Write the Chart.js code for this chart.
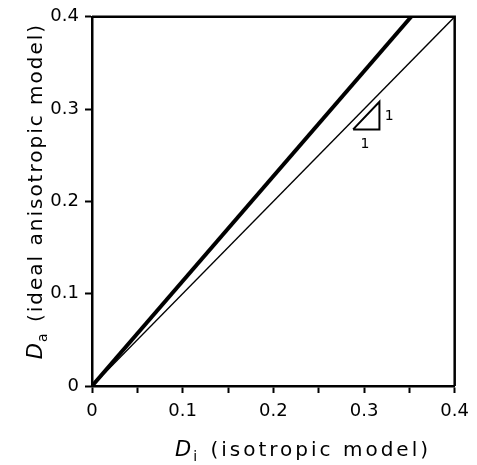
<!DOCTYPE html>
<html>
<head>
<meta charset="utf-8">
<script src="https://cdn.jsdelivr.net/npm/chart.js@4.4.0/dist/chart.umd.min.js"></script>
<style>
  html, body { margin: 0; padding: 0; background: #fff; }
  #wrap { width: 477px; height: 465px; }
</style>
</head>
<body>
<div id="wrap"><canvas id="myChart" width="477" height="465"></canvas></div>
<script>
// data
var isoX = [0, 0.4];
var isoY = [0, 0.4];
var anisoX = [0, 0.352];
var anisoY = [0, 0.4];
// 1:1 slope marker
var triX = [0.288, 0.317, 0.317, 0.288];
var triY = [0.278, 0.278, 0.308, 0.278];
var triLabels = [
    { text: '1', x: 0.323, y: 0.292, align: 'left' },
    { text: '1', x: 0.301, y: 0.262, align: 'center' }
];
var tickLabelsX = ['0', '0.1', '0.2', '0.3', '0.4'];
var tickLabelsY = ['0', '0.1', '0.2', '0.3', '0.4'];

function pts(xs, ys) {
    return xs.map(function (x, i) { return { x: x, y: ys[i] }; });
}

// frame, slope labels and axis titles (italic D with subscript)
var extras = {
    id: 'extras',
    afterDraw: function (chart) {
        var ctx = chart.ctx, a = chart.chartArea;
        var sx = chart.scales.x, sy = chart.scales.y;
        ctx.save();
        ctx.strokeStyle = '#000';
        ctx.lineWidth = 2.5;
        ctx.beginPath();
        ctx.moveTo(a.left, a.top);
        ctx.lineTo(a.right, a.top);
        ctx.lineTo(a.right, a.bottom);
        ctx.stroke();

        ctx.fillStyle = '#000';
        ctx.font = '14px "DejaVu Sans"';
        triLabels.forEach(function (l) {
            ctx.textAlign = l.align;
            ctx.textBaseline = 'middle';
            ctx.fillText(l.text, sx.getPixelForValue(l.x), sy.getPixelForValue(l.y));
        });

        function title(sub, rest, spacing) {
            ctx.letterSpacing = spacing + 'px';
            ctx.font = 'italic 21px "DejaVu Sans"';
            var w1 = ctx.measureText('D').width;
            ctx.font = '14px "DejaVu Sans"';
            var w2 = ctx.measureText(sub).width;
            ctx.font = '20px "DejaVu Sans"';
            var w3 = ctx.measureText(rest).width;
            var x = -(w1 + w2 + w3) / 2;
            ctx.textAlign = 'left';
            ctx.textBaseline = 'alphabetic';
            ctx.font = 'italic 21px "DejaVu Sans"';
            ctx.fillText('D', x, 0);
            ctx.font = '14px "DejaVu Sans"';
            ctx.fillText(sub, x + w1 - 1, 5);
            ctx.font = '20px "DejaVu Sans"';
            ctx.fillText(rest, x + w1 + w2, 0);
        }

        ctx.save();
        ctx.translate(303, 456);
        title('i', ' (isotropic model)', 3);
        ctx.restore();

        ctx.save();
        ctx.translate(42, 191);
        ctx.rotate(-Math.PI / 2);
        title('a', ' (ideal anisotropic model)', 2);
        ctx.restore();

        ctx.restore();
    }
};

var tickFont = { family: 'DejaVu Sans', size: 18 };

var ctx = document.getElementById('myChart').getContext('2d');
var myChart = new Chart(ctx, {
    type: 'scatter',
    data: {
        datasets: [{
            data: pts(isoX, isoY),
            showLine: true,
            borderColor: '#000',
            borderWidth: 1.3,
            pointRadius: 0
        }, {
            data: pts(anisoX, anisoY),
            showLine: true,
            borderColor: '#000',
            borderWidth: 4,
            pointRadius: 0
        }, {
            data: pts(triX, triY),
            showLine: true,
            borderColor: '#000',
            borderWidth: 2,
            pointRadius: 0
        }]
    },
    options: {
        responsive: false,
        animation: false,
        layout: { padding: { left: 0, right: 18, top: 15, bottom: 0 } },
        plugins: {
            legend: { display: false },
            tooltip: { enabled: false }
        },
        scales: {
            x: {
                type: 'linear',
                min: 0,
                max: 0.4,
                afterFit: function (scale) { scale.height = 79; },
                ticks: {
                    stepSize: 0.05,
                    autoSkip: false,
                    maxRotation: 0,
                    color: '#000',
                    font: tickFont,
                    padding: 8,
                    callback: function (v) {
                        var k = Math.round(v * 10);
                        if (Math.abs(v * 10 - k) > 1e-6) return '';
                        return tickLabelsX[k];
                    }
                },
                grid: {
                    drawOnChartArea: false,
                    tickLength: 7,
                    tickColor: '#000',
                    tickWidth: 2
                },
                border: { color: '#000', width: 2.5 }
            },
            y: {
                type: 'linear',
                min: 0,
                max: 0.4,
                afterFit: function (scale) { scale.width = 92; },
                ticks: {
                    stepSize: 0.1,
                    color: '#000',
                    font: tickFont,
                    padding: 6,
                    callback: function (v) {
                        return tickLabelsY[Math.round(v * 10)];
                    }
                },
                grid: {
                    drawOnChartArea: false,
                    tickLength: 7,
                    tickColor: '#000',
                    tickWidth: 2
                },
                border: { color: '#000', width: 2.5 }
            }
        }
    },
    plugins: [extras]
});
</script>
</body>
</html>
